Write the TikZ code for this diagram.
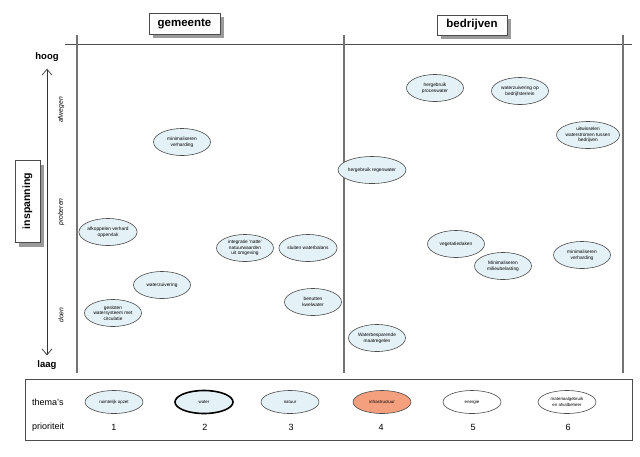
\documentclass[tikz,border=0pt]{standalone}
\usepackage{fontspec}
\setmainfont{Liberation Sans}
\usetikzlibrary{shapes.geometric,arrows.meta}
\definecolor{lblue}{HTML}{E4F2F7}
\definecolor{orng}{HTML}{F4A07E}
\definecolor{shd}{HTML}{9A9A9A}
\begin{document}
\begin{tikzpicture}[x=1pt,y=-1pt,
  bub/.style={ellipse,draw=black!70,line width=0.6pt,fill=lblue,minimum width=57pt,minimum height=27pt,inner sep=0pt,align=center,font=\fontsize{4.8}{5.6}\selectfont},
  leg/.style={ellipse,draw=black!70,line width=0.6pt,minimum width=58pt,minimum height=23pt,inner sep=0pt,align=center,font=\fontsize{4.4}{5.2}\selectfont},
  titlebox/.style={draw=black!70,fill=white,line width=0.6pt,font=\bfseries\fontsize{11.5}{13}\selectfont,inner sep=0pt},
  vline/.style={draw=black!55,line width=1.6pt},
  lab/.style={font=\fontsize{9}{10}\selectfont,inner sep=0pt},
  side/.style={font=\itshape\fontsize{6.8}{7.5}\selectfont,rotate=90,inner sep=0pt}]
\useasboundingbox (0,0) rectangle (640,456);
% frame lines
\coordinate (tl) at (65,44);
\coordinate (tr) at (632,44);
\draw[black!70,line width=0.8pt] (tl) -- (tr);
\coordinate (v1t) at (77,35); \coordinate (v1b) at (77,373);
\coordinate (v2t) at (344,35); \coordinate (v2b) at (344,373);
\coordinate (v3t) at (623,35); \coordinate (v3b) at (623,373);
\draw[vline] (v1t) -- (v1b);
\draw[vline] (v2t) -- (v2b);
\draw[vline] (v3t) -- (v3b);
% titles
\fill[shd] (153,17) rectangle (224,38);
\node[titlebox,minimum width=71pt,minimum height=21pt] (gem) at (184.5,23.5) {gemeente};
\fill[shd] (441,19) rectangle (511,39);
\node[titlebox,minimum width=70pt,minimum height=20pt] (bed) at (472,25) {bedrijven};
% left axis
\node[font=\bfseries\fontsize{9.5}{11}\selectfont,inner sep=0pt] (hoog) at (47,57) {hoog};
\node[font=\bfseries\fontsize{9.5}{11}\selectfont,inner sep=0pt] (laag) at (47,365) {laag};
\draw[{Straight Barb[length=6pt,width=10pt]}-{Straight Barb[length=6pt,width=10pt]},line width=0.7pt,black!80] ([yshift=-7pt]hoog.south) -- ([yshift=5pt]laag.north);
\fill[shd] (19,165) rectangle (44,247);
\node[draw=black!70,fill=white,line width=0.6pt,rotate=90,minimum width=82pt,minimum height=25pt,inner sep=0pt,font=\bfseries\fontsize{10.5}{12}\selectfont] (insp) at (27.5,201) {inspanning};
\node[side] (afw) at (61,110) {afwegen};
\node[side] (prob) at (61,212) {proberen};
\node[side] (doen) at (61,315) {doen};
% gemeente bubbles
\node[bub] (g1) at (182,142) {minimaliseren\\verharding};
\node[bub] (g2) at (108,232) {afkoppelen verhard\\oppervlak};
\node[bub] (g3) at (245,248) {integratie `natte'\\natuurwaarden\\uit omgeving};
\node[bub] (g4) at (308,248) {sluiten waterbalans};
\node[bub] (g5) at (162,285) {waterzuivering};
\node[bub] (g6) at (113,313) {gesloten\\watersysteem met\\circulatie};
\node[bub] (g7) at (313,302) {benutten\\kwelwater};
% bedrijven bubbles
\node[bub] (b1) at (435,88) {hergebruik\\proceswater};
\node[bub] (b2) at (520,91) {waterzuivering op\\bedrijfsterrein};
\node[bub] (b3) at (588,135) {uitwisselen\\waterstromen tussen\\bedrijven};
\node[bub] (b4) at (372,170) {hergebruik regenwater};
\node[bub] (b5) at (456,244) {vegetatiedaken};
\node[bub] (b6) at (503,266) {Minimaliseren\\milieubelasting};
\node[bub] (b7) at (582,255) {minimaliseren\\verharding};
\node[bub] (b8) at (377,338) {Waterbesparende\\maatregelen};
% legend
\draw[black!70,line width=0.8pt] (25,379) rectangle (632,440);
\node[lab,anchor=west] (thema) at (32,402) {thema's};
\node[lab,anchor=west] (prio) at (32,427) {prioriteit};
\node[leg,fill=lblue] (l1) at (114,402) {ruimtelijk opzet};
\node[leg,fill=lblue,draw=black,line width=1.6pt] (l2) at (204,402) {water};
\node[leg,fill=lblue] (l3) at (290,402) {natuur};
\node[leg,fill=orng] (l4) at (382,402) {infrastructuur};
\node[leg,fill=white] (l5) at (472,402) {energie};
\node[leg,fill=white] (l6) at (567,402) {materiaalgebruik\\en afvalbeheer};
\node[lab] (n1) at (114,427) {1};
\node[lab] (n2) at (205,427) {2};
\node[lab] (n3) at (291,427) {3};
\node[lab] (n4) at (381,427) {4};
\node[lab] (n5) at (473,427) {5};
\node[lab] (n6) at (568,427) {6};
\end{tikzpicture}
\end{document}
